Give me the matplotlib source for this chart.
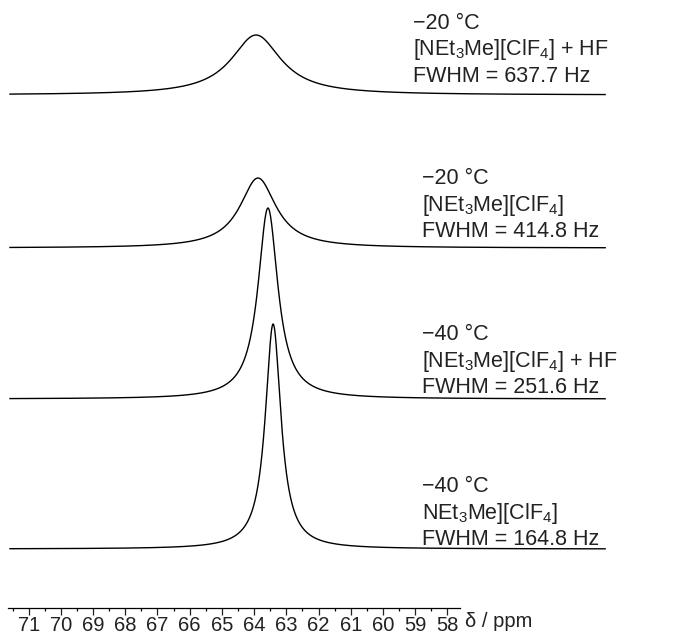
import numpy as np
import matplotlib
matplotlib.use("Agg")
import matplotlib.pyplot as plt

plt.rcParams["font.family"] = ["Liberation Sans", "DejaVu Sans"]
plt.rcParams["mathtext.default"] = "regular"

# --- data (top trace first) ---
temps = ["\u221220 \u00b0C", "\u221220 \u00b0C", "\u221240 \u00b0C", "\u221240 \u00b0C"]
samples = [
    "[NEt$_3$Me][ClF$_4$] + HF",
    "[NEt$_3$Me][ClF$_4$]",
    "[NEt$_3$Me][ClF$_4$] + HF",
    "NEt$_3$Me][ClF$_4$]",
]
fwhm_hz = [637.7, 414.8, 251.6, 164.8]
peak_ppm = [63.94, 63.88, 63.57, 63.41]
peak_width_ppm = [1.89, 1.37, 0.75, 0.59]
peak_height = [60, 70, 191, 225]
trace_offset = [513, 360, 209, 59]

# label placement (ppm of left edge, y of last line baseline)
label_x = [59.07, 58.79, 58.79, 58.79]
label_y = [526, 371, 215, 63]

fig = plt.figure(figsize=(6.86, 6.39), dpi=100)
ax = fig.add_axes([0, 31 / 639, 1, 608 / 639])
ax.set_xlim(71.89, 50.59)
ax.set_ylim(0, 608)

ppm = np.linspace(71.58, 53.1, 3000)
for c, w, h, off in zip(peak_ppm, peak_width_ppm, peak_height, trace_offset):
    hw = w / 2
    y = off + h * hw**2 / ((ppm - c) ** 2 + hw**2)
    ax.plot(ppm, y, color="black", lw=1.0)

for i in range(len(temps)):
    lines = [temps[i], samples[i], "FWHM = %.1f Hz" % fwhm_hz[i]]
    for k, txt in enumerate(lines):
        ax.text(label_x[i], label_y[i] + (2 - k) * 26.5, txt, fontsize=15.5,
                ha="left", va="baseline", color="#222222")

# axis
for s in ["top", "left", "right"]:
    ax.spines[s].set_visible(False)
ax.spines["bottom"].set_bounds(57.6, 71.65)
ax.spines["bottom"].set_linewidth(0.9)
ax.set_yticks([])
ax.set_xticks(np.arange(58, 72))
ax.set_xticks(np.arange(58.5, 72, 1.0), minor=True)
ax.tick_params(axis="x", which="major", direction="out", length=5, width=0.9,
               labelsize=14.5, pad=0.5, colors="#222222")
ax.tick_params(axis="x", which="minor", direction="out", length=2.5, width=0.9)
ax.text(57.45, -19, "\u03b4 / ppm", fontsize=14.5, ha="left", va="baseline",
        color="#222222", clip_on=False)

fig.savefig("out.png", dpi=100)
